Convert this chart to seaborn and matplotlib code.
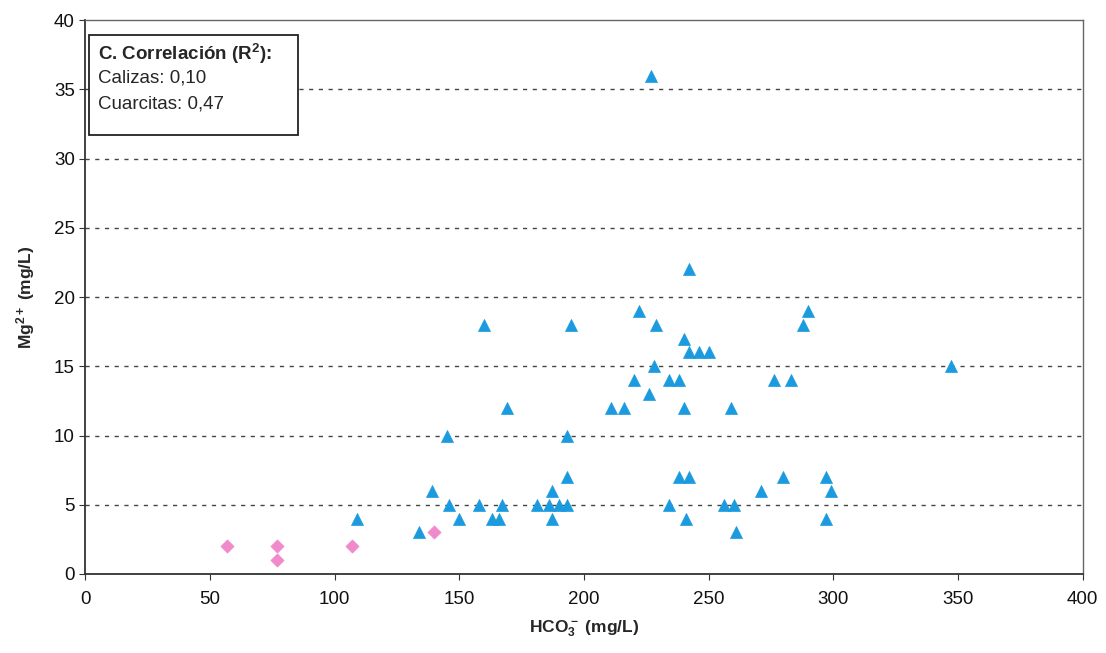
import pandas as pd
import seaborn as sns
import matplotlib.pyplot as plt
from matplotlib.patches import Rectangle

# Datos (HCO3- y Mg2+ en mg/L)
calizas_hco3 = [57, 77, 77, 107, 140]
calizas_mg = [2, 2, 1, 2, 3]

cuarcitas_hco3 = [109, 134, 139, 145, 146, 150, 158, 160, 163, 166,
                  167, 169, 181, 186, 187, 187, 190, 193, 193, 193,
                  195, 211, 216, 220, 222, 226, 228, 227, 229, 234,
                  234, 238, 238, 240, 240, 241, 242, 242, 242, 246,
                  250, 256, 260, 259, 261, 271, 276, 280, 283, 288,
                  290, 297, 297, 299, 347]
cuarcitas_mg = [4, 3, 6, 10, 5, 4, 5, 18, 4, 4,
                5, 12, 5, 5, 4, 6, 5, 5, 7, 10,
                18, 12, 12, 14, 19, 13, 15, 36, 18, 14,
                5, 14, 7, 17, 12, 4, 16, 22, 7, 16,
                16, 5, 5, 12, 3, 6, 14, 7, 14, 18,
                19, 4, 7, 6, 15]

titulo_caja = r"C. Correlación ($\mathbf{R^2}$):"
lineas_caja = ["Calizas: 0,10", "Cuarcitas: 0,47"]

df_cal = pd.DataFrame({"HCO3": calizas_hco3, "Mg": calizas_mg})
df_cua = pd.DataFrame({"HCO3": cuarcitas_hco3, "Mg": cuarcitas_mg})

sns.set_style("white")
plt.rcParams['font.family'] = ['Liberation Sans', 'DejaVu Sans']
plt.rcParams['mathtext.fontset'] = 'custom'
plt.rcParams['mathtext.rm'] = 'Liberation Sans'
plt.rcParams['mathtext.bf'] = 'Liberation Sans:bold'

fig = plt.figure(figsize=(11.06, 6.53), dpi=100)
ax = fig.add_axes([0.077, 0.121, 0.902, 0.848])

# Líneas de división horizontales discontinuas
for v in range(5, 40, 5):
    ax.axhline(v, color='#444444', linestyle=(0, (3, 4)), linewidth=1.0, zorder=0)

sns.scatterplot(data=df_cua, x="HCO3", y="Mg", marker="^", s=75,
                color="#1B9BDF", edgecolor="#1B9BDF", linewidth=0.5, ax=ax, zorder=3)
sns.scatterplot(data=df_cal, x="HCO3", y="Mg", marker="D", s=45,
                color="#F08ACB", edgecolor="#F08ACB", linewidth=0.5, ax=ax, zorder=3)

ax.set_xlim(0, 400)
ax.set_ylim(0, 40)
ax.set_xticks(range(0, 401, 50))
ax.set_yticks(range(0, 41, 5))
ax.tick_params(axis='both', labelsize=13.5, direction='out', length=4,
               color='#333333', labelcolor='#111111', bottom=True, left=True)
ax.tick_params(axis='x', pad=8)

ax.set_xlabel(r"$\mathbf{HCO_3^-}$ (mg/L)", fontsize=12.5, fontweight='bold', labelpad=8)
ax.set_ylabel(r"$\mathbf{Mg^{2+}}$ (mg/L)", fontsize=12.5, fontweight='bold', labelpad=12)

for side in ['left', 'bottom']:
    ax.spines[side].set_color('#333333')
    ax.spines[side].set_linewidth(1.3)
for side in ['top', 'right']:
    ax.spines[side].set_color('#666666')
    ax.spines[side].set_linewidth(1.0)

# Caja con los coeficientes de correlación
ax.add_patch(Rectangle((0.004, 0.792), 0.209, 0.181, transform=ax.transAxes,
                       facecolor='white', edgecolor='#222222', linewidth=1.3, zorder=5))
ax.text(0.013, 0.94, titulo_caja, transform=ax.transAxes, fontsize=13.5,
        fontweight='bold', va='center', ha='left', zorder=6)
ax.text(0.013, 0.895, lineas_caja[0], transform=ax.transAxes, fontsize=13.5,
        va='center', ha='left', zorder=6)
ax.text(0.013, 0.848, lineas_caja[1], transform=ax.transAxes, fontsize=13.5,
        va='center', ha='left', zorder=6)

plt.savefig("out.png", dpi=100)
